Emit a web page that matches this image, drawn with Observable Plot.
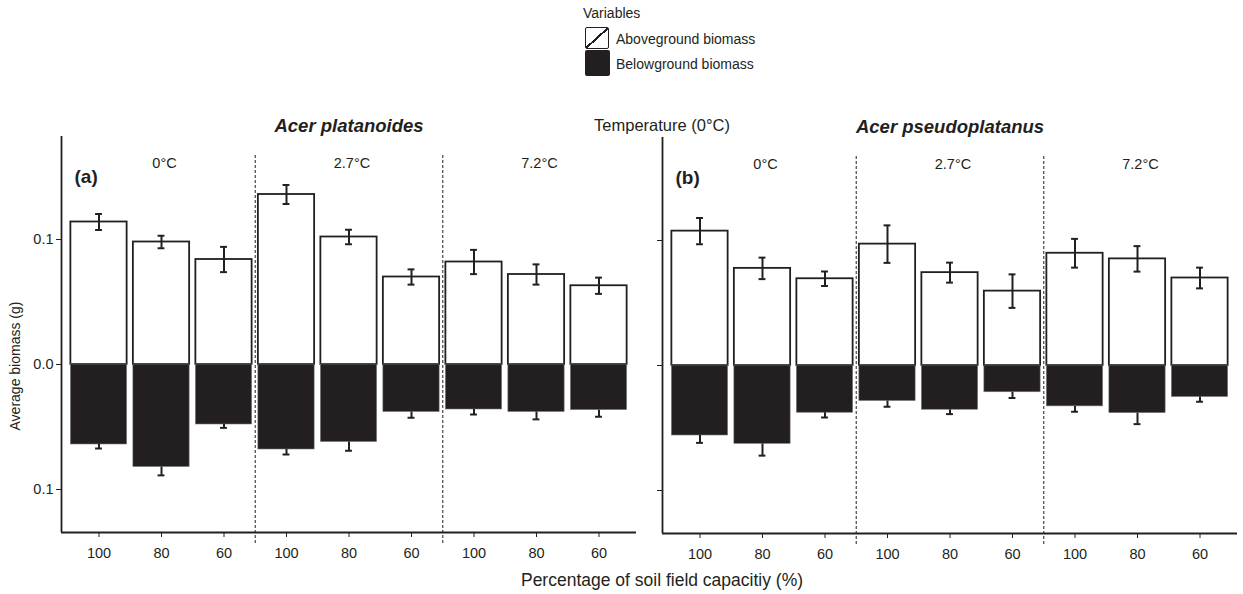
<!DOCTYPE html>
<html>
<head>
<meta charset="utf-8">
<script src="https://cdn.jsdelivr.net/npm/d3@7"></script>
<script src="https://cdn.jsdelivr.net/npm/@observablehq/plot@0.6"></script>
<style>
  html, body { margin: 0; padding: 0; background: #fff; }
  body { font-family: "Liberation Sans", Arial, Helvetica, sans-serif; color: #231f20; }
  #root { position: relative; width: 1243px; height: 594px; overflow: hidden; background: #fff; }
  .abs { position: absolute; white-space: nowrap; line-height: 1; }
  .panel { position: absolute; top: 0; height: 594px; }
</style>
</head>
<body>
<div id="root">
  <div id="pa" class="panel" style="left:0;width:640px"></div>
  <div id="pb" class="panel" style="left:640px;width:603px"></div>

  <div class="abs" style="left:583px;top:13px;transform:translateY(-50%);font-size:14px">Variables</div>
  <div class="abs" style="left:585px;top:27px;width:22px;height:20px;border:1.5px solid #231f20;border-radius:2px;
       background:linear-gradient(to bottom right, #fff calc(50% - 1px), #231f20 calc(50% - 1px), #231f20 calc(50% + 1px), #fff calc(50% + 1px));"></div>
  <div class="abs" style="left:585px;top:50px;width:25px;height:26px;background:#231f20;border-radius:2px"></div>
  <div class="abs" style="left:616px;top:39px;transform:translateY(-50%);font-size:14px">Aboveground biomass</div>
  <div class="abs" style="left:616px;top:64px;transform:translateY(-50%);font-size:14px">Belowground biomass</div>

  <div class="abs" style="left:662px;top:125px;transform:translate(-50%,-50%);font-size:16.5px">Temperature (0°C)</div>
  <div class="abs" style="left:662px;top:581px;transform:translate(-50%,-50%);font-size:17.5px">Percentage of soil field capacitiy (%)</div>
  <div class="abs" style="left:15px;top:366px;transform:translate(-50%,-50%) rotate(-90deg);font-size:14px">Average biomass (g)</div>
</div>
<script>
// ---- data ----
const capacities = ["100", "80", "60"];
const temperatures = ["0°C", "2.7°C", "7.2°C"];
const species = ["Acer platanoides", "Acer pseudoplatanus"];
const panelTags = ["(a)", "(b)"];
const yTicks = [-0.1, 0, 0.1];

// Acer platanoides (order: 0°C 100/80/60, 2.7°C 100/80/60, 7.2°C 100/80/60)
const platAbove   = [0.114, 0.098, 0.084, 0.136, 0.102, 0.070, 0.082, 0.072, 0.063];
const platAboveSE = [0.0064, 0.0050, 0.0101, 0.0076, 0.0058, 0.0061, 0.0097, 0.0081, 0.0065];
const platBelow   = [0.064, 0.082, 0.048, 0.068, 0.062, 0.038, 0.036, 0.038, 0.0365];
const platBelowSE = [0.0032, 0.0067, 0.0027, 0.0040, 0.0070, 0.0046, 0.0040, 0.0059, 0.0053];

// Acer pseudoplatanus
const pseuAbove   = [0.1075, 0.0777, 0.0694, 0.0971, 0.0743, 0.0595, 0.0898, 0.0853, 0.0700];
const pseuAboveSE = [0.0105, 0.0086, 0.0058, 0.0150, 0.0080, 0.0134, 0.0115, 0.0102, 0.0083];
const pseuBelow   = [0.0560, 0.0627, 0.0378, 0.0284, 0.0354, 0.0214, 0.0327, 0.0381, 0.0252];
const pseuBelowSE = [0.0059, 0.0094, 0.0038, 0.0046, 0.0035, 0.0046, 0.0043, 0.0088, 0.0038];

const ink = "#231f20";
const yDomain = [-0.1344, 0.1824];
const nC = capacities.length;
const nAll = nC * temperatures.length;
const xDomain = [0.4, nAll + 0.6];
const half = 0.45, capHalf = 0.055;

function panel(opts) {
  const {above, aboveSE, below, belowSE, title, tag, yLabels, width, marginLeft, marginRight, marginTop, marginBottom} = opts;
  const rows = temperatures.flatMap((t, g) => capacities.map((c, j) => {
    const k = g * nC + j;
    return {pos: k + 1, cap: c, temp: t, above: above[k], aSE: aboveSE[k], below: -below[k], bSE: belowSE[k]};
  }));
  const bounds = d3.range(1, temperatures.length).map(g => g * nC + 0.5);
  return Plot.plot({
    width, height: 594, marginLeft, marginRight, marginTop, marginBottom,
    style: {fontFamily: '"Liberation Sans", Arial, Helvetica, sans-serif', fontSize: "14.5px", color: ink, background: "transparent"},
    x: {domain: xDomain, ticks: d3.range(1, nAll + 1), tickFormat: i => capacities[(i - 1) % nC], tickSize: 5, tickPadding: 10, label: null},
    y: {domain: yDomain, ticks: yTicks, tickFormat: yLabels ? (d => Math.abs(d).toFixed(1)) : (() => ""), tickSize: 5, tickPadding: 3, label: null},
    marks: [
      Plot.rect(rows, {x1: d => d.pos - half, x2: d => d.pos + half, y1: 0, y2: "above", fill: "white", stroke: ink, strokeWidth: 1.8}),
      Plot.rect(rows, {x1: d => d.pos - half, x2: d => d.pos + half, y1: 0, y2: "below", fill: ink, stroke: "#777", strokeWidth: 0.6}),
      Plot.ruleX(rows, {x: "pos", y1: d => d.above - d.aSE, y2: d => d.above + d.aSE, stroke: ink, strokeWidth: 2}),
      Plot.ruleY(rows, {y: d => d.above + d.aSE, x1: d => d.pos - capHalf, x2: d => d.pos + capHalf, stroke: ink, strokeWidth: 2}),
      Plot.ruleY(rows, {y: d => d.above - d.aSE, x1: d => d.pos - capHalf, x2: d => d.pos + capHalf, stroke: ink, strokeWidth: 2}),
      Plot.ruleX(rows, {x: "pos", y1: d => d.below - d.bSE, y2: d => d.below, stroke: ink, strokeWidth: 2}),
      Plot.ruleY(rows, {y: d => d.below - d.bSE, x1: d => d.pos - capHalf, x2: d => d.pos + capHalf, stroke: ink, strokeWidth: 2}),
      Plot.ruleX(bounds, {stroke: "#444", strokeWidth: 1.2, strokeDasharray: "3,2", insetTop: 19, insetBottom: -13}),
      Plot.ruleX([xDomain[0]], {stroke: ink, strokeWidth: 1.8}),
      Plot.ruleY([yDomain[0]], {stroke: ink, strokeWidth: 1.8}),
      Plot.text(temperatures, {x: (d, i) => i * nC + (nC + 1) / 2, frameAnchor: "top", dy: 21, dx: 3, fontSize: 14.5, fill: ink}),
      Plot.text([tag], {frameAnchor: "top-left", dx: 13, dy: 33, textAnchor: "start", fontWeight: "bold", fontSize: 19, fill: ink}),
      Plot.text([title], {frameAnchor: "top", dy: -18, fontWeight: "bold", fontStyle: "italic", fontSize: 18.5, fill: ink})
    ]
  });
}

document.getElementById("pa").append(panel({
  above: platAbove, aboveSE: platAboveSE, below: platBelow, belowSE: platBelowSE,
  title: species[0], tag: panelTags[0], yLabels: true,
  width: 640, marginLeft: 61, marginRight: 4, marginTop: 136, marginBottom: 62
}));
document.getElementById("pb").append(panel({
  above: pseuAbove, aboveSE: pseuAboveSE, below: pseuBelow, belowSE: pseuBelowSE,
  title: species[1], tag: panelTags[1], yLabels: false,
  width: 603, marginLeft: 22, marginRight: 6, marginTop: 137, marginBottom: 61
}));
</script>
</body>
</html>
